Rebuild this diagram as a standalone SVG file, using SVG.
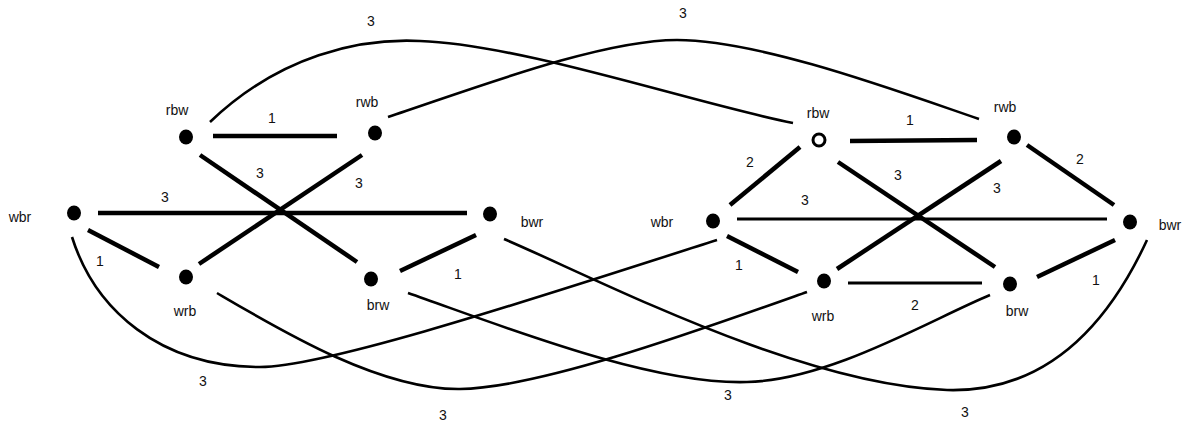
<svg xmlns="http://www.w3.org/2000/svg" width="1197" height="425" viewBox="0 0 1197 425">
<style>
.dot{fill:#000}
.open{fill:#fff;stroke:#000;stroke-width:3}
.e{stroke:#000;stroke-width:4.5;fill:none}
.e3{stroke:#000;stroke-width:3;fill:none}
.c{stroke:#000;stroke-width:2.6;fill:none}
text{font-family:"Liberation Sans",Arial,sans-serif;font-size:14px;fill:#111;text-anchor:middle}
</style>
<rect width="1197" height="425" fill="#fff"/>
<g id="connectors">
<line class="e" x1="213" y1="136" x2="337" y2="136"/>
<line class="e" x1="200" y1="155" x2="357" y2="262"/>
<line class="e" x1="362" y1="155" x2="199" y2="264"/>
<line class="e" x1="98" y1="213" x2="467" y2="213"/>
<line class="e" x1="88" y1="230" x2="159" y2="267"/>
<line class="e" x1="476" y1="235" x2="400" y2="271"/>
<line class="e" x1="850" y1="141" x2="977" y2="140"/>
<line class="e" x1="800" y1="147" x2="730" y2="205"/>
<line class="e" x1="838" y1="162" x2="995" y2="267"/>
<line class="e" x1="1001" y1="161" x2="837" y2="269"/>
<line class="e" x1="1027" y1="145" x2="1114" y2="205"/>
<line class="e3" x1="737" y1="219" x2="1107" y2="219"/>
<line class="e" x1="727" y1="236" x2="798" y2="272"/>
<line class="e3" x1="848" y1="283" x2="982" y2="283"/>
<line class="e" x1="1115" y1="240" x2="1037" y2="277"/>
<path class="c" d="M210,122 C280,55 360,38 420,41 C520,44 700,105 793,123"/>
<path class="c" d="M388,117 C470,90 600,40 677,40 C760,40 900,92 979,119"/>
<path class="c" d="M72,237 C95,310 160,367 260,367 C330,367 560,290 717,240"/>
<path class="c" d="M217,293 C280,330 380,390 460,389 C540,388 700,330 807,292"/>
<path class="c" d="M408,293 C500,325 650,385 747,382 C830,380 930,320 990,295"/>
<path class="c" d="M504,239 C600,280 800,385 947,390 C1050,393 1110,320 1147,240"/>
</g>
<g id="edge-labels">
<text x="371" y="26">3</text>
<text x="683" y="18">3</text>
<text x="272" y="123">1</text>
<text x="260" y="178">3</text>
<text x="359" y="188">3</text>
<text x="165" y="202">3</text>
<text x="100" y="266">1</text>
<text x="458" y="279">1</text>
<text x="203" y="386">3</text>
<text x="443" y="420">3</text>
<text x="910" y="125">1</text>
<text x="750" y="167">2</text>
<text x="898" y="180">3</text>
<text x="997" y="193">3</text>
<text x="1080" y="164">2</text>
<text x="805" y="205">3</text>
<text x="739" y="270">1</text>
<text x="915" y="310">2</text>
<text x="1096" y="285">1</text>
<text x="728" y="400">3</text>
<text x="965" y="417">3</text>
</g>
<g id="L-rbw"><ellipse class="dot" cx="186" cy="137" rx="7" ry="7.5"/><text x="177" y="115">rbw</text></g>
<g id="L-rwb"><ellipse class="dot" cx="375" cy="133" rx="7" ry="7.5"/><text x="367" y="107">rwb</text></g>
<g id="L-wbr"><ellipse class="dot" cx="74" cy="213" rx="7" ry="7.5"/><text x="20" y="222">wbr</text></g>
<g id="L-bwr"><ellipse class="dot" cx="490" cy="214" rx="7" ry="7.5"/><text x="532" y="227">bwr</text></g>
<g id="L-wrb"><ellipse class="dot" cx="186" cy="277" rx="7" ry="7.5"/><text x="185" y="316">wrb</text></g>
<g id="L-brw"><ellipse class="dot" cx="371" cy="279" rx="7" ry="7.5"/><text x="378" y="310">brw</text></g>
<g id="R-rbw"><circle class="open" cx="819" cy="140" r="6"/><text x="818" y="118">rbw</text></g>
<g id="R-rwb"><ellipse class="dot" cx="1014" cy="137" rx="7" ry="7.5"/><text x="1005" y="112">rwb</text></g>
<g id="R-wbr"><ellipse class="dot" cx="713" cy="221" rx="7" ry="7.5"/><text x="662" y="227">wbr</text></g>
<g id="R-bwr"><ellipse class="dot" cx="1130" cy="222" rx="7" ry="7.5"/><text x="1170" y="230">bwr</text></g>
<g id="R-wrb"><ellipse class="dot" cx="824" cy="281" rx="7" ry="7.5"/><text x="823" y="321">wrb</text></g>
<g id="R-brw"><ellipse class="dot" cx="1010" cy="284" rx="7" ry="7.5"/><text x="1017" y="316">brw</text></g>
</svg>
